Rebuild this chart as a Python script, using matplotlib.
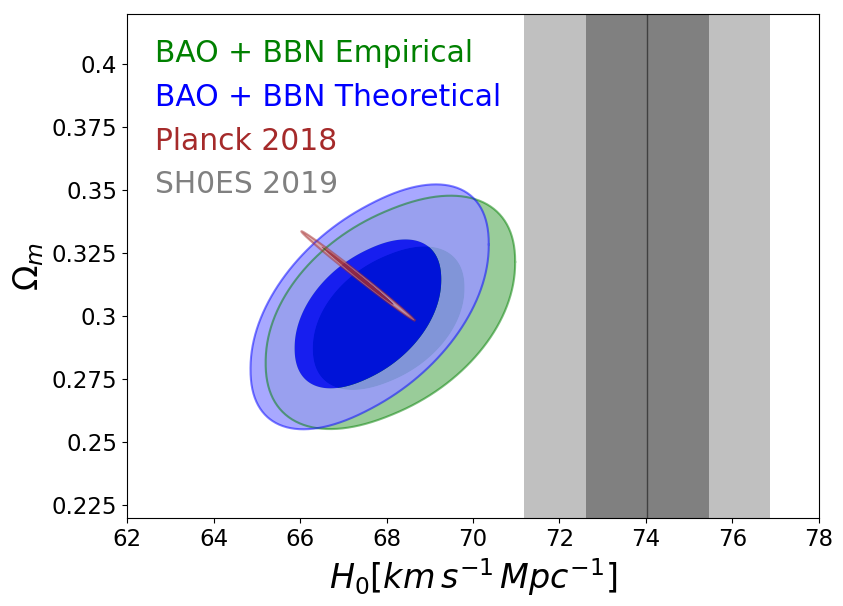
import numpy as np
import matplotlib
matplotlib.use("Agg")
import matplotlib.pyplot as plt
from matplotlib.path import Path
from matplotlib.patches import PathPatch

# contour read-off: centre (H0, Om), half extent in H0, half extent in Om, correlation
# [outer (95%), inner (68%)]
labels = ["BAO + BBN Empirical", "BAO + BBN Theoretical", "Planck 2018"]
colors = ["green", "blue", "brown"]

emp_h0 = [68.09, 68.05]
emp_om = [0.3013, 0.2990]
emp_dh = [2.885, 1.755]
emp_dom = [0.0455, 0.0280]
emp_rho = [0.44, 0.43]

theo_h0 = [67.61, 67.57]
theo_om = [0.3035, 0.3007]
theo_dh = [2.755, 1.695]
theo_dom = [0.0476, 0.0290]
theo_rho = [0.52, 0.47]

pl_h0 = [67.34, 67.33]
pl_om = [0.3158, 0.3159]
pl_dh = [1.31, 0.83]
pl_dom = [0.0177, 0.0115]
pl_rho = [-0.9964, -0.9968]

# SH0ES 2019
sh0es_h0 = 74.03
sh0es_err = 1.42

yticks = [0.225, 0.25, 0.275, 0.3, 0.325, 0.35, 0.375, 0.4]
yticklabels = ["0.225", "0.25", "0.275", "0.3", "0.325", "0.35", "0.375", "0.4"]
xticks = [62, 64, 66, 68, 70, 72, 74, 76, 78]


def contour_xy(cx, cy, dx, dy, rho, q=1.0, n=400):
    # sheared (super)ellipse touching the given H0 / Om extents
    t = np.linspace(0, 2*np.pi, n)
    u = np.sign(np.cos(t))*np.abs(np.cos(t))**q
    v = np.sign(np.sin(t))*np.abs(np.sin(t))**q
    x = cx + dx*u
    y = cy + dy*(rho*u + np.sqrt(1 - rho**2)*v)
    return np.column_stack([x, y])


def light(c, a=0.6):
    rgb = np.array(matplotlib.colors.to_rgb(c))
    return tuple(rgb*(1 - a) + a)


def add_filled(ax, h0, om, dh, dom, rho, col, alpha, q):
    outer = contour_xy(h0[0], om[0], dh[0], dom[0], rho[0], q)
    inner = contour_xy(h0[1], om[1], dh[1], dom[1], rho[1], q)
    band = Path.make_compound_path(Path(outer, closed=True), Path(inner[::-1], closed=True))
    ax.add_patch(PathPatch(band, facecolor=light(col), edgecolor="none", alpha=alpha, zorder=2))
    ax.fill(inner[:, 0], inner[:, 1], color=col, alpha=alpha, lw=0, zorder=2)
    return outer


fig = plt.figure(figsize=(8.43, 6.06), dpi=100)
ax = fig.add_axes([0.1507, 0.1452, 0.8208, 0.8317])

ax.axvspan(sh0es_h0 - 2*sh0es_err, sh0es_h0 + 2*sh0es_err, color="silver", lw=0, zorder=1)
ax.axvspan(sh0es_h0 - sh0es_err, sh0es_h0 + sh0es_err, color="gray", lw=0, zorder=1)
ax.axvline(sh0es_h0, color="#404040", lw=1, zorder=1)

edges = []
edges.append(add_filled(ax, emp_h0, emp_om, emp_dh, emp_dom, emp_rho, colors[0], 1.0, 0.93))
edges.append(add_filled(ax, theo_h0, theo_om, theo_dh, theo_dom, theo_rho, colors[1], 0.85, 0.93))
edges.append(add_filled(ax, pl_h0, pl_om, pl_dh, pl_dom, pl_rho, colors[2], 0.85, 1.0))
for e, c in zip(edges, colors):
    ax.plot(e[:, 0], e[:, 1], color=c, alpha=0.5, lw=1.5, zorder=3)

ax.set_xlim(62, 78)
ax.set_ylim(0.2197, 0.4197)
ax.set_xticks(xticks)
ax.set_yticks(yticks)
ax.set_yticklabels(yticklabels)
ax.tick_params(labelsize=16.5)
ax.set_xlabel(r"$H_0[km\,s^{-1}\,Mpc^{-1}]$", fontsize=24)
ax.set_ylabel(r"$\Omega_m$", fontsize=24)

names = labels + ["SH0ES 2019"]
name_cols = colors + ["gray"]
for k, (nm, c) in enumerate(zip(names, name_cols)):
    ax.text(0.040, 0.921 - k*0.0867, nm, color=c, fontsize=21.4,
            va="center", ha="left", transform=ax.transAxes, zorder=5)

fig.savefig("out.png", dpi=100)
